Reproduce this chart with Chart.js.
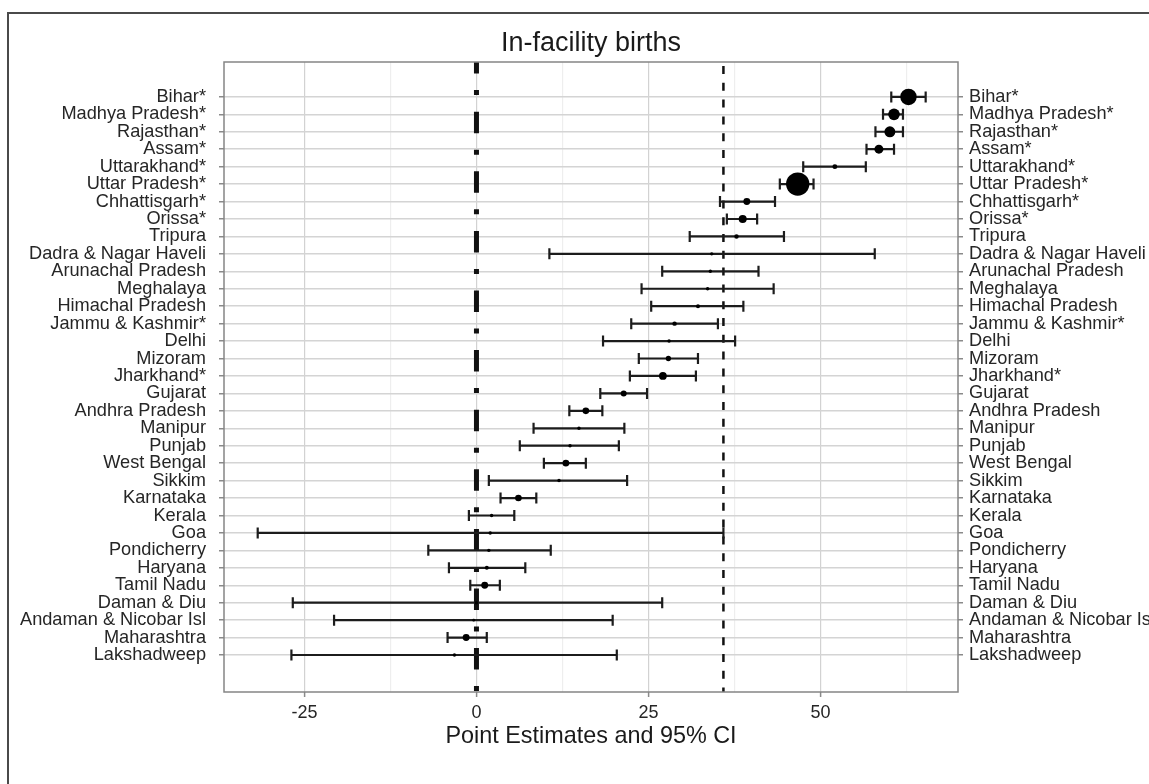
<!DOCTYPE html>
<html>
<head>
<meta charset="utf-8">
<title>In-facility births</title>
<script src="https://cdn.jsdelivr.net/npm/chart.js@4.4.1/dist/chart.umd.min.js"></script>
<style>
  html, body { margin: 0; padding: 0; background: #fff; overflow: hidden; }
  #wrap { position: relative; width: 1149px; height: 784px; }
  #frame { position: absolute; left: 7px; top: 12px; width: 1200px; height: 800px;
           border-top: 2px solid #4a4a4a; border-left: 2px solid #4a4a4a; pointer-events: none; }
</style>
</head>
<body>
<div id="wrap">
  <canvas id="forest"></canvas>
  <div id="frame"></div>
</div>
<script>
const states = ['Bihar*', 'Madhya Pradesh*', 'Rajasthan*', 'Assam*', 'Uttarakhand*', 'Uttar Pradesh*',
  'Chhattisgarh*', 'Orissa*', 'Tripura', 'Dadra & Nagar Haveli', 'Arunachal Pradesh', 'Meghalaya',
  'Himachal Pradesh', 'Jammu & Kashmir*', 'Delhi', 'Mizoram', 'Jharkhand*', 'Gujarat', 'Andhra Pradesh',
  'Manipur', 'Punjab', 'West Bengal', 'Sikkim', 'Karnataka', 'Kerala', 'Goa', 'Pondicherry', 'Haryana',
  'Tamil Nadu', 'Daman & Diu', 'Andaman & Nicobar Isl', 'Maharashtra', 'Lakshadweep'];

const estimate = [62.8, 60.7, 60.1, 58.5, 52.1, 46.7, 39.3, 38.7, 37.8, 34.2, 34.0, 33.6, 32.2, 28.8,
  28.0, 27.9, 27.1, 21.4, 15.9, 14.9, 13.6, 13.0, 12.0, 6.1, 2.2, 2.0, 1.8, 1.5, 1.2, 0.0, -0.4, -1.5, -3.2];
const lower = [60.3, 59.1, 58.0, 56.7, 47.5, 44.1, 35.4, 36.4, 31.0, 10.6, 27.0, 24.0, 25.4, 22.5,
  18.4, 23.6, 22.3, 18.0, 13.5, 8.3, 6.3, 9.8, 1.8, 3.5, -1.1, -31.8, -7.0, -4.0, -0.9, -26.7, -20.7, -4.2, -26.9];
const upper = [65.3, 62.0, 62.0, 60.7, 56.6, 49.0, 43.4, 40.8, 44.7, 57.9, 41.0, 43.2, 38.8, 35.1,
  37.6, 32.2, 31.9, 24.8, 18.3, 21.5, 20.7, 15.9, 21.9, 8.7, 5.5, 35.9, 10.8, 7.1, 3.4, 27.0, 19.8, 1.5, 20.4];
// relative sample weight per state, drives the marker area
const weight = [68, 34, 30, 20, 6, 136, 12, 16, 5, 3, 3, 3, 4, 5, 3, 7, 15, 9, 11, 3, 3, 11, 3, 11,
  3, 3, 3, 4, 12, 3, 2, 12, 3];

const xTicks = [-25, -12.5, 0, 12.5, 25, 37.5, 50, 62.5];
const overall = 35.9;

const font = 'Liberation Sans, Arial, Helvetica, sans-serif';
const textCol = '#262626';

// reference lines, CI whiskers and the panel border
const forestPlugin = {
  id: 'forest',
  beforeDatasetsDraw(chart) {
    const { ctx, chartArea: a, scales: { x, y } } = chart;
    ctx.save();
    ctx.beginPath();
    ctx.rect(a.left, a.top, a.right - a.left, a.bottom - a.top);
    ctx.clip();

    // zero line, dot-dash
    let px = x.getPixelForValue(0);
    ctx.strokeStyle = '#111';
    ctx.lineWidth = 5;
    ctx.setLineDash([21.5, 16.5, 5, 16.6]);
    ctx.lineDashOffset = 9.9;
    ctx.beginPath();
    ctx.moveTo(px, a.top);
    ctx.lineTo(px, a.bottom);
    ctx.stroke();

    // overall mean, dashed
    px = x.getPixelForValue(overall);
    ctx.lineWidth = 2.5;
    ctx.setLineDash([8, 8.8]);
    ctx.lineDashOffset = 12.8;
    ctx.beginPath();
    ctx.moveTo(px, a.top);
    ctx.lineTo(px, a.bottom);
    ctx.stroke();
    ctx.setLineDash([]);

    // confidence intervals
    ctx.strokeStyle = '#1c1c1c';
    ctx.lineWidth = 2.2;
    states.forEach((s, i) => {
      const py = y.getPixelForValue(i);
      const x0 = x.getPixelForValue(lower[i]);
      const x1 = x.getPixelForValue(upper[i]);
      ctx.beginPath();
      ctx.moveTo(x0, py);
      ctx.lineTo(x1, py);
      ctx.moveTo(x0, py - 5.5);
      ctx.lineTo(x0, py + 5.5);
      ctx.moveTo(x1, py - 5.5);
      ctx.lineTo(x1, py + 5.5);
      ctx.stroke();
    });
    ctx.restore();
  },
  afterDatasetsDraw(chart) {
    const { ctx, chartArea: a } = chart;
    ctx.save();
    ctx.strokeStyle = '#858585';
    ctx.lineWidth = 1.5;
    ctx.strokeRect(a.left, a.top, a.right - a.left, a.bottom - a.top);
    ctx.restore();
  }
};

const rowAxis = (position, width) => ({
  type: 'linear',
  position: position,
  reverse: true,
  min: -2,
  max: 34.12,
  afterBuildTicks: (axis) => { axis.ticks = states.map((s, i) => ({ value: i })); },
  afterFit: (axis) => { axis.width = width; },
  border: { display: false },
  grid: {
    drawOnChartArea: position === 'left',
    color: '#d4d4d4',
    lineWidth: 1.5,
    tickColor: '#8a8a8a',
    tickWidth: 1.5,
    tickLength: 5
  },
  ticks: {
    autoSkip: false,
    padding: position === 'left' ? 13 : 6,
    color: textCol,
    font: { family: font, size: 18.2 },
    callback: (v) => states[v]
  }
});

new Chart(document.getElementById('forest'), {
  type: 'scatter',
  data: {
    datasets: [{
      data: estimate.map((v, i) => ({ x: v, y: i })),
      backgroundColor: '#000',
      borderWidth: 0,
      pointRadius: (c) => Math.sqrt(weight[c.dataIndex]),
      pointHoverRadius: (c) => Math.sqrt(weight[c.dataIndex])
    }]
  },
  options: {
    responsive: true,
    maintainAspectRatio: false,
    animation: false,
    layout: { padding: 0 },
    plugins: {
      legend: { display: false },
      tooltip: { enabled: false },
      title: {
        display: true,
        text: 'In-facility births',
        fullSize: false,
        color: '#1a1a1a',
        font: { family: font, size: 27, weight: 'normal' },
        padding: { top: 27, bottom: 2.6 }
      }
    },
    scales: {
      x: {
        type: 'linear',
        min: -36.7,
        max: 70,
        afterBuildTicks: (axis) => { axis.ticks = xTicks.map(v => ({ value: v })); },
        afterFit: (axis) => { axis.height = 92; },
        border: { display: false },
        grid: {
          color: (c) => c.tick && c.tick.value % 25 === 0 ? '#d2d2d2' : '#eeeeee',
          lineWidth: 1.2,
          tickColor: (c) => c.tick && c.tick.value % 25 === 0 ? '#8a8a8a' : 'rgba(0,0,0,0)',
          tickWidth: 1.5,
          tickLength: 5
        },
        ticks: {
          padding: 5,
          color: textCol,
          font: { family: font, size: 18 },
          callback: (v) => v % 25 === 0 ? String(v) : ''
        },
        title: {
          display: true,
          text: 'Point Estimates and 95% CI',
          color: '#1a1a1a',
          font: { family: font, size: 23.4 },
          padding: { top: 0, bottom: 33 }
        }
      },
      y: rowAxis('left', 224),
      y2: rowAxis('right', 191)
    }
  },
  plugins: [forestPlugin]
});
</script>
</body>
</html>
